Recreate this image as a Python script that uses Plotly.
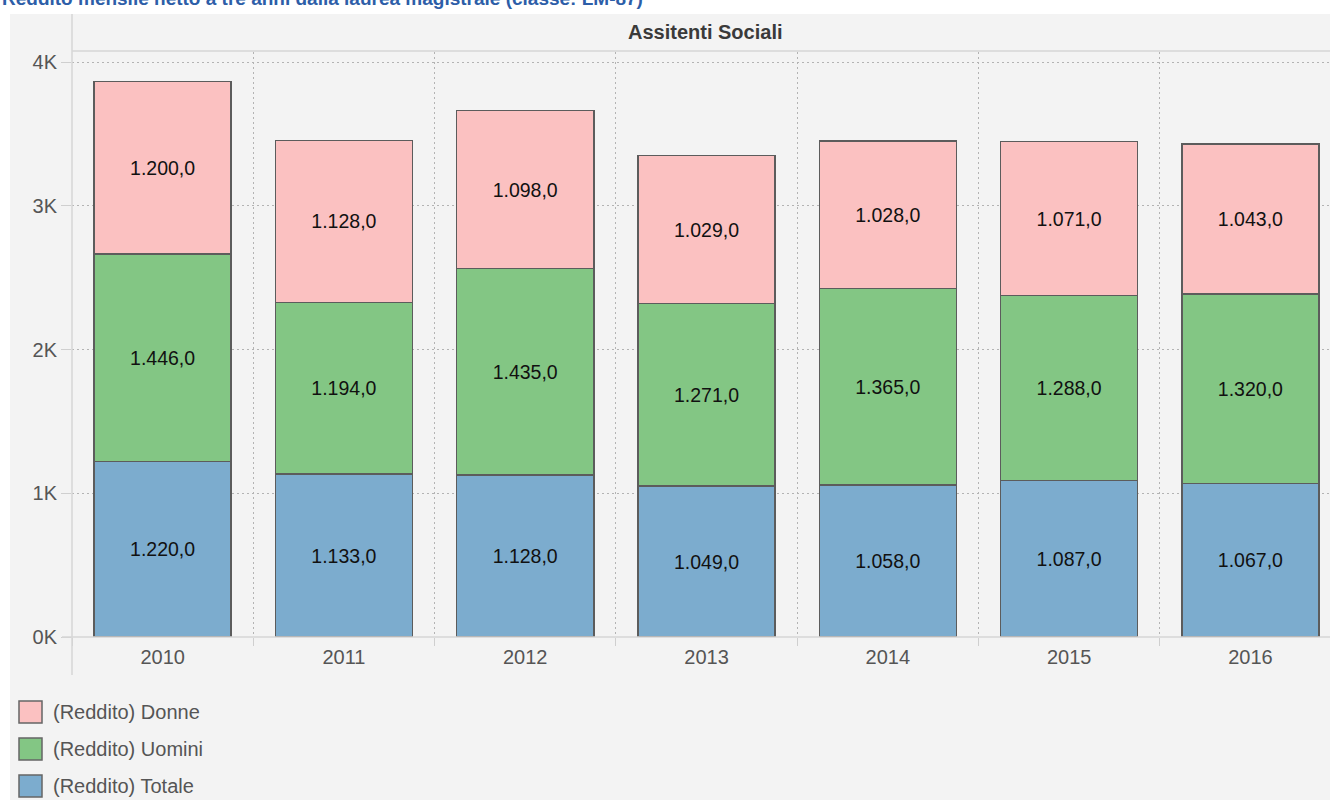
import plotly.graph_objects as go

# ---- data ----
years = ["2010", "2011", "2012", "2013", "2014", "2015", "2016"]
totale = [1220, 1133, 1128, 1049, 1058, 1087, 1067]
uomini = [1446, 1194, 1435, 1271, 1365, 1288, 1320]
donne = [1200, 1128, 1098, 1029, 1028, 1071, 1043]
series_names = ["(Reddito) Totale", "(Reddito) Uomini", "(Reddito) Donne"]
series_colors = ["#7cacce", "#83c684", "#fbc1c1"]
y_tickvals = [0, 1000, 2000, 3000, 4000]
y_ticktext = ["0K", "1K", "2K", "3K", "4K"]
page_title = "Reddito mensile netto a tre anni dalla laurea magistrale (classe: LM-87)"
panel_title = "Assitenti Sociali"

# ---- geometry (pixels) ----
W, H = 1330, 800
L, T, B = 72, 52, 637          # plot area left, top, bottom (px)
R = W
cat_w = 181.3
pw, ph = R - L, B - T
y_max = 4000 * ph / (B - 62)   # 4K gridline sits at y=62 px

def px(x):
    return (x - L) / pw

def py(y):
    return (B - y) / ph

FONT = "Liberation Sans, Arial, sans-serif"
GRID = "#b3b3b3"
DASH = "2px,3px"

fig = go.Figure()
for name, vals, col in zip(series_names, [totale, uomini, donne], series_colors):
    fig.add_trace(go.Bar(
        x=years, y=vals, name=name,
        marker=dict(color=col, line=dict(color="#5c5c5c", width=1.5)),
        texttemplate="%{y:,.1f}", textposition="inside",
        insidetextanchor="middle", textangle=0,
        textfont=dict(family=FONT, size=19.5, color="#111111"),
        width=0.756, showlegend=False,
    ))

shapes = [
    # white outer strips
    dict(type="rect", xref="paper", yref="paper", x0=px(0), x1=px(W), y0=py(14), y1=py(0),
         fillcolor="white", line=dict(width=0), layer="below"),
    dict(type="rect", xref="paper", yref="paper", x0=px(0), x1=px(10), y0=py(800), y1=py(0),
         fillcolor="white", line=dict(width=0), layer="below"),
    # header separator line
    dict(type="line", xref="paper", yref="paper", x0=px(L), x1=px(W), y0=py(51), y1=py(51),
         line=dict(color="#d6d6d6", width=1.5)),
    # y axis line
    dict(type="line", xref="paper", yref="paper", x0=px(L), x1=px(L), y0=py(14), y1=py(675),
         line=dict(color="#d6d6d6", width=1.5)),
    # x axis line
    dict(type="line", xref="paper", yref="paper", x0=px(62), x1=px(W), y0=py(B), y1=py(B),
         line=dict(color="#d6d6d6", width=1.5)),
]

annotations = [
    dict(text="<b>" + page_title + "</b>", xref="paper", yref="paper",
         x=px(0), y=py(11), xanchor="left", yanchor="bottom", showarrow=False,
         font=dict(family=FONT, size=19, color="#2d5ea8")),
    dict(text="<b>" + panel_title + "</b>", xref="paper", yref="paper",
         x=px(706), y=py(32), xanchor="center", yanchor="middle", showarrow=False,
         font=dict(family=FONT, size=20, color="#3a3a3a")),
]

# manual legend (top-to-bottom: Donne, Uomini, Totale)
leg_rows = [712, 749, 786]
for yc, name, col in zip(leg_rows, series_names[::-1], series_colors[::-1]):
    shapes.append(dict(type="rect", xref="paper", yref="paper",
                       x0=px(19), x1=px(42), y0=py(yc + 11), y1=py(yc - 11),
                       fillcolor=col, line=dict(color="#666666", width=1.5)))
    annotations.append(dict(text=name, xref="paper", yref="paper",
                            x=px(51), y=py(yc), xanchor="left", yanchor="middle",
                            showarrow=False,
                            font=dict(family=FONT, size=20, color="#555555")))

fig.update_layout(
    width=W, height=H,
    margin=dict(l=L, r=W - R, t=T, b=H - B, pad=0),
    barmode="stack",
    separators=",.",
    paper_bgcolor="#f3f3f3",
    plot_bgcolor="rgba(0,0,0,0)",
    font=dict(family=FONT, size=20, color="#555555"),
    shapes=shapes,
    annotations=annotations,
    xaxis=dict(
        type="category", range=[-0.5, -0.5 + pw / cat_w],
        tickson="boundaries", ticks="outside", ticklen=8, tickcolor="#cfcfcf",
        ticklabelstandoff=6,
        showgrid=True, gridcolor=GRID, griddash=DASH, gridwidth=1,
        showline=False, zeroline=False,
        tickfont=dict(family=FONT, size=20, color="#555555"),
    ),
    yaxis=dict(
        range=[0, y_max], tickvals=y_tickvals, ticktext=y_ticktext,
        ticks="outside", ticklen=10, tickcolor="#cfcfcf",
        showgrid=True, gridcolor=GRID, griddash=DASH, gridwidth=1,
        showline=False, zeroline=False,
        tickfont=dict(family=FONT, size=20, color="#555555"),
    ),
)

fig.write_html(
    "out.html",
    config={"displayModeBar": False},
    post_script="document.body.style.margin='0';document.body.style.overflow='hidden';",
)
